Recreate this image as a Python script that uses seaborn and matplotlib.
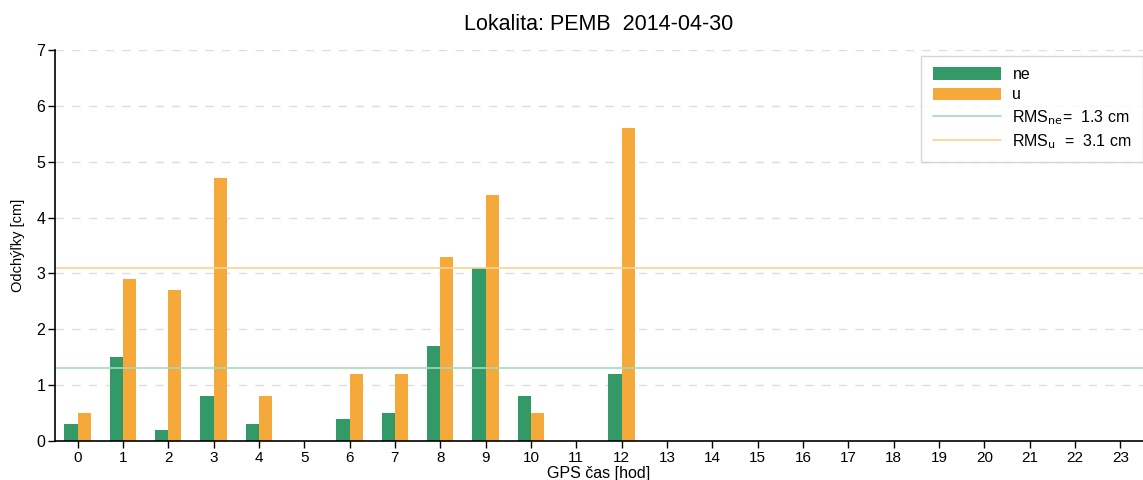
import numpy as np
import pandas as pd
import matplotlib
matplotlib.use("Agg")
import matplotlib.pyplot as plt
import seaborn as sns
from matplotlib.lines import Line2D
from matplotlib.patches import Patch

hours = list(range(24))
ne_vals = [0.3, 1.5, 0.2, 0.8, 0.3, np.nan, 0.4, 0.5, 1.7, 3.1, 0.8, np.nan, 1.2] + [np.nan] * 11
u_vals = [0.5, 2.9, 2.7, 4.7, 0.8, np.nan, 1.2, 1.2, 3.3, 4.4, 0.5, np.nan, 5.6] + [np.nan] * 11
rms_ne = 1.3
rms_u = 3.1
series_names = ["ne", "u"]
colors = {"ne": "#339966", "u": "#f5a93a"}
rms_colors = {"ne": "#a6d9bf", "u": "#fcd291"}

sns.set_style("white")
plt.rcParams['font.family'] = ['Liberation Sans', 'DejaVu Sans']
plt.rcParams['text.color'] = 'black'
plt.rcParams['xtick.color'] = 'black'
plt.rcParams['ytick.color'] = 'black'
plt.rcParams['axes.labelcolor'] = 'black'

df = pd.DataFrame({
    "hour": hours * 2,
    "value": ne_vals + u_vals,
    "series": ["ne"] * 24 + ["u"] * 24,
})

fig = plt.figure(figsize=(11.43, 4.8), dpi=100)
ax = fig.add_axes([0.048, 0.081, 0.952, 0.815])

sns.barplot(data=df, x="hour", y="value", hue="series", hue_order=series_names,
            palette=colors, width=0.58, dodge=True, ax=ax, legend=False,
            saturation=1, linewidth=0, errorbar=None, order=hours)

ax.axhline(rms_ne, color=rms_colors["ne"], lw=1.2, zorder=1)
ax.axhline(rms_u, color=rms_colors["u"], lw=1.2, zorder=1)

ax.set_xlim(-0.5, 23.5)
ax.set_ylim(0, 7)
ax.set_yticks(range(8))
ax.set_xticks(range(24))
ax.set_xticklabels([str(h) for h in hours], fontsize=11)
ax.tick_params(axis='y', labelsize=11.5, length=5, width=1, direction='out', left=True, pad=2)
ax.tick_params(axis='x', length=5, width=1, direction='out', bottom=True, pad=2)
for y in range(1, 8):
    ax.axhline(y, color='#dddddd', lw=1, ls=(0, (6, 6)), zorder=0)

for s in ['top', 'right']:
    ax.spines[s].set_visible(False)
for s in ['left', 'bottom']:
    ax.spines[s].set_color('black')
    ax.spines[s].set_linewidth(1.2)

ax.set_xlabel("GPS čas [hod]", fontsize=11.5, labelpad=1)
ax.set_ylabel("Odchýľky [cm]", fontsize=10.5, labelpad=8)
ax.set_title("Lokalita: PEMB  2014-04-30", fontsize=15.5, pad=14)

handles = [
    Patch(facecolor=colors["ne"], edgecolor='none'),
    Patch(facecolor=colors["u"], edgecolor='none'),
    Line2D([0], [0], color=rms_colors["ne"], lw=1.2),
    Line2D([0], [0], color=rms_colors["u"], lw=1.2),
]
labels = ["ne", "u", r"RMS$_{\mathrm{ne}}$=  1.3 cm", r"RMS$_{\mathrm{u}}$  =  3.1 cm"]
leg = ax.legend(handles, labels, loc='upper right', bbox_to_anchor=(1.0, 0.985),
                fontsize=11.5, frameon=True, fancybox=False, handlelength=4.3,
                handleheight=0.8, borderpad=0.7, labelspacing=0.34, handletextpad=0.7,
                borderaxespad=0.0)
leg.get_frame().set_edgecolor('#cccccc')
leg.get_frame().set_linewidth(1)

fig.savefig("out.png", dpi=100)
